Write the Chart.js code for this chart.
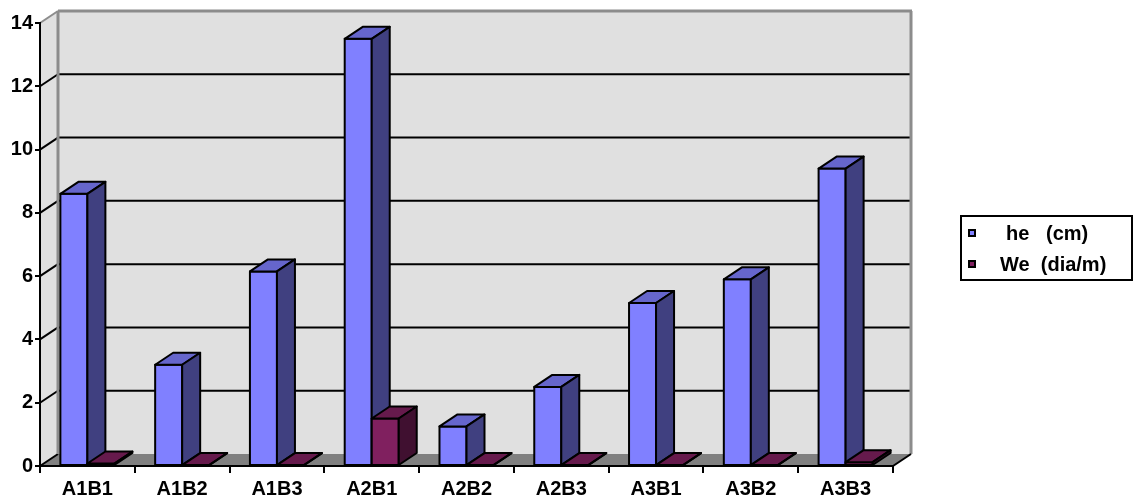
<!DOCTYPE html>
<html>
<head>
<meta charset="utf-8">
<script src="https://cdn.jsdelivr.net/npm/chart.js@4.4.0/dist/chart.umd.min.js"></script>
<style>
    body { margin: 0; background: #fff; }
    #wrap { position: relative; width: 1134px; height: 502px; }
    #legend {
        position: absolute; left: 960px; top: 215px; width: 173px; height: 66px;
        border: 2px solid #000; box-sizing: border-box;
        font: bold 20px "Liberation Sans", Arial, sans-serif; color: #000;
    }
    .item { position: absolute; left: 0; width: 169px; height: 22px; }
    .swatch { position: absolute; left: 6px; top: 7px; width: 4px; height: 4px; border: 2px solid #000; }
    .label { position: absolute; white-space: pre; line-height: 22px; }
</style>
</head>
<body>
<div id="wrap">
    <canvas id="chart" width="1134" height="502"></canvas>
    <div id="legend"></div>
</div>
<script>
// Chart data
const categories = ['A1B1', 'A1B2', 'A1B3', 'A2B1', 'A2B2', 'A2B3', 'A3B1', 'A3B2', 'A3B3'];
const heValues = [8.6, 3.2, 6.15, 13.5, 1.25, 2.5, 5.15, 5.9, 9.4];
const weValues = [0.08, 0.03, 0.03, 1.5, 0.03, 0.03, 0.03, 0.03, 0.12];
const seriesLabels = ['he   (cm)', 'We  (dia/m)'];
const yMin = 0;
const yMax = 14;
const yStep = 2;

// 3D look
const depth = { dx: 18, dy: -12 };
const faces = [
    { front: '#8080FF', top: '#6666CC', side: '#404080' },
    { front: '#80205F', top: '#661A4C', side: '#401030' }
];
const wallColor = '#E0E0E0';
const floorColor = '#808080';
const edgeColor = '#8C8C8C';
const fontFamily = '"Liberation Sans", Arial, sans-serif';
const legendTextLeft = [44, 38];   // px inside legend box

function poly(ctx, pts, fill, stroke, width) {
    ctx.beginPath();
    ctx.moveTo(pts[0][0], pts[0][1]);
    for (let i = 1; i < pts.length; i++) ctx.lineTo(pts[i][0], pts[i][1]);
    ctx.closePath();
    if (fill) { ctx.fillStyle = fill; ctx.fill(); }
    if (stroke) { ctx.strokeStyle = stroke; ctx.lineWidth = width; ctx.stroke(); }
}

function line(ctx, x1, y1, x2, y2, color, width) {
    ctx.beginPath();
    ctx.moveTo(x1, y1);
    ctx.lineTo(x2, y2);
    ctx.strokeStyle = color;
    ctx.lineWidth = width;
    ctx.stroke();
}

// Walls, floor and gridlines behind the bars
const wallsPlugin = {
    id: 'walls3d',
    beforeDraw(chart) {
        const { ctx, chartArea: a, scales } = chart;
        const { dx, dy } = depth;
        ctx.save();
        ctx.lineJoin = 'round';
        // side wall + back wall
        poly(ctx, [[a.left, a.top], [a.left + dx, a.top + dy], [a.left + dx, a.bottom + dy], [a.left, a.bottom]], wallColor);
        poly(ctx, [[a.left + dx, a.top + dy], [a.right + dx, a.top + dy], [a.right + dx, a.bottom + dy], [a.left + dx, a.bottom + dy]], wallColor);
        // floor
        poly(ctx, [[a.left, a.bottom], [a.right, a.bottom], [a.right + dx, a.bottom + dy], [a.left + dx, a.bottom + dy]], floorColor);
        // gridlines on back wall and side wall
        for (let v = yMin; v <= yMax; v += yStep) {
            const y = scales.y.getPixelForValue(v);
            const c = v === yMax ? edgeColor : '#000';
            if (v > yMin && v < yMax) line(ctx, a.left + dx, y + dy, a.right + dx, y + dy, '#000', 2);
            line(ctx, a.left, y, a.left + dx, y + dy, c, 2);
        }
        // wall edges
        line(ctx, a.left + dx, a.top + dy, a.right + dx + 1, a.top + dy, edgeColor, 3);
        line(ctx, a.right + dx, a.top + dy, a.right + dx, a.bottom + dy, edgeColor, 3);
        line(ctx, a.left + dx, a.top + dy, a.left + dx, a.bottom + dy, edgeColor, 3);
        // right floor edge
        line(ctx, a.right, a.bottom, a.right + dx, a.bottom + dy, '#000', 2);
        ctx.restore();
    },
    // Bars with top and side faces, category by category
    afterDatasetsDraw(chart) {
        const { ctx } = chart;
        const { dx, dy } = depth;
        ctx.save();
        ctx.lineJoin = 'round';
        categories.forEach((_, i) => {
            chart.data.datasets.forEach((ds, d) => {
                const el = chart.getDatasetMeta(d).data[i];
                const { x, y, base, width } = el.getProps(['x', 'y', 'base', 'width'], true);
                const l = x - width / 2;
                const r = x + width / 2;
                const f = faces[d];
                poly(ctx, [[l, y], [r, y], [r, base], [l, base]], f.front, '#000', 2);
                poly(ctx, [[l, y], [l + dx, y + dy], [r + dx, y + dy], [r, y]], f.top, '#000', 2);
                poly(ctx, [[r, y], [r + dx, y + dy], [r + dx, base + dy], [r, base]], f.side, '#000', 2);
            });
        });
        ctx.restore();
    }
};

const chart = new Chart(document.getElementById('chart'), {
    type: 'bar',
    data: {
        labels: categories,
        datasets: [
            { label: seriesLabels[0], data: heValues, backgroundColor: faces[0].front, borderColor: '#000', borderWidth: 0 },
            { label: seriesLabels[1], data: weValues, backgroundColor: faces[1].front, borderColor: '#000', borderWidth: 0 }
        ]
    },
    options: {
        responsive: false,
        animation: false,
        events: [],
        layout: { padding: { top: 23, right: 241, left: 0, bottom: 0 } },
        datasets: { bar: { categoryPercentage: 0.57, barPercentage: 1 } },
        plugins: { legend: { display: false }, tooltip: { enabled: false } },
        scales: {
            x: {
                grid: { display: true, drawOnChartArea: false, tickLength: 7, color: '#000', lineWidth: 2 },
                border: { display: true, color: '#000', width: 2 },
                ticks: { color: '#000', padding: 4, font: { family: fontFamily, size: 20, weight: 'bold' }, maxRotation: 0 },
                afterFit(scale) { scale.height = 36; }
            },
            y: {
                min: yMin,
                max: yMax,
                grid: { display: true, drawOnChartArea: false, tickLength: 5, color: '#000', lineWidth: 2 },
                border: { display: true, color: '#000', width: 2 },
                ticks: { stepSize: yStep, color: '#000', padding: 2, font: { family: fontFamily, size: 20, weight: 'bold' } },
                afterFit(scale) { scale.width = 40; }
            }
        }
    },
    plugins: [wallsPlugin]
});

// HTML legend built from the datasets
const legend = document.getElementById('legend');
chart.data.datasets.forEach((ds, d) => {
    const item = document.createElement('div');
    item.className = 'item';
    item.style.top = (5 + d * 31) + 'px';
    const sw = document.createElement('div');
    sw.className = 'swatch';
    sw.style.background = faces[d].front;
    const lb = document.createElement('div');
    lb.className = 'label';
    lb.style.left = legendTextLeft[d] + 'px';
    lb.textContent = ds.label;
    item.appendChild(sw);
    item.appendChild(lb);
    legend.appendChild(item);
});
</script>
</body>
</html>
